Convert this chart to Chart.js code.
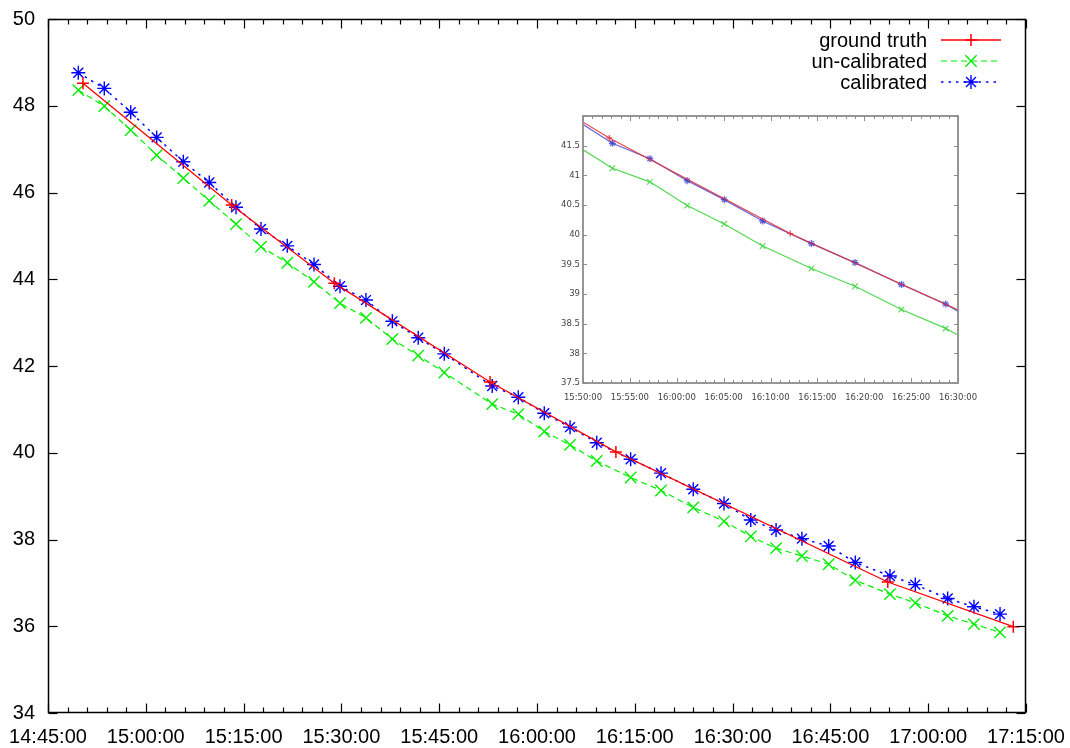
<!DOCTYPE html>
<html>
<head>
<meta charset="utf-8">
<script src="https://cdn.jsdelivr.net/npm/chart.js@4/dist/chart.umd.min.js"></script>
<style>
  html, body { margin: 0; padding: 0; background: #fff; }
  #wrap { position: relative; width: 1070px; height: 748px; overflow: hidden; background: #fff; }
  #main { position: absolute; left: 0; top: 0; }
  #inset { position: absolute; left: 560px; top: 108px; background: #fff; }
</style>
</head>
<body>
<div id="wrap">
  <canvas id="main" width="1070" height="748"></canvas>
  <canvas id="inset" width="420" height="300"></canvas>
</div>
<script>
// ---------------- data ----------------
const seriesLabels = ['ground truth', 'un-calibrated', 'calibrated'];

const truthTimes  = ['14:50:22','15:13:10','15:28:55','15:52:48','16:12:06','16:53:48','17:13:03'];
const truthValues = [48.52, 45.71, 43.91, 41.63, 40.02, 37.02, 35.99];

const sampleTimes = ['14:49:39','14:53:38','14:57:41','15:01:40','15:05:45','15:09:44','15:13:50',
  '15:17:40','15:21:42','15:25:48','15:29:47','15:33:46','15:37:49','15:41:47','15:45:47',
  '15:53:08','15:57:08','16:01:07','16:05:04','16:09:10','16:14:22','16:19:01','16:23:58',
  '16:28:41','16:32:47','16:36:40','16:40:38','16:44:44','16:48:49','16:54:08','16:58:01',
  '17:02:59','17:07:01','17:11:01'];
const uncalibratedValues = [48.36,47.99,47.44,46.86,46.33,45.81,45.27,44.75,44.38,43.94,43.45,
  43.11,42.62,42.24,41.85,41.12,40.89,40.49,40.18,39.81,39.43,39.13,38.74,38.42,38.07,37.80,
  37.62,37.43,37.06,36.74,36.54,36.24,36.05,35.86];
const calibratedValues = [48.76,48.40,47.85,47.27,46.71,46.23,45.66,45.16,44.77,44.34,43.84,
  43.52,43.03,42.65,42.28,41.54,41.28,40.91,40.59,40.23,39.85,39.53,39.16,38.83,38.45,38.22,
  38.02,37.85,37.47,37.16,36.96,36.64,36.45,36.28];

const mainXRange  = ['14:45:00', '17:15:00'];
const mainYRange  = [34, 50];
const insetXRange = ['15:50:00', '16:30:00'];
const insetYRange = [37.5, 42];

// ---------------- helpers ----------------
function toMin(s) { const [h, m, sec] = s.split(':').map(Number); return h * 60 + m + sec / 60; }
function fmtTime(v) {
  const tot = Math.round(v * 60);
  const h = Math.floor(tot / 3600), m = Math.floor((tot % 3600) / 60), s = tot % 60;
  const p = n => String(n).padStart(2, '0');
  return p(h) + ':' + p(m) + ':' + p(s);
}
function pts(times, vals) { return times.map((t, i) => ({ x: toMin(t), y: vals[i] })); }

const truthPts = pts(truthTimes, truthValues);
const uncalPts = pts(sampleTimes, uncalibratedValues);
const calPts   = pts(sampleTimes, calibratedValues);

Chart.defaults.devicePixelRatio = 1;
const SANS = "'Liberation Sans', Arial, sans-serif";

function line(ctx, x1, y1, x2, y2) { ctx.beginPath(); ctx.moveTo(x1, y1); ctx.lineTo(x2, y2); ctx.stroke(); }

// ---------------- main chart decorations: frame, inward ticks, legend ----------------
const mainDecor = {
  id: 'mainDecor',
  afterDraw(chart) {
    const { ctx, chartArea: a, scales: { x, y } } = chart;
    const L = Math.round(a.left) + 0.5, R = Math.round(a.right) - 0.5;
    const T = Math.round(a.top) + 0.5, B = Math.round(a.bottom) - 0.5;
    ctx.save();
    ctx.strokeStyle = '#000';
    ctx.lineWidth = 1.5;
    ctx.strokeRect(L, T, R - L, B - T);
    ctx.lineWidth = 1.2;
    y.ticks.forEach(t => {
      const py = Math.round(y.getPixelForValue(t.value)) + 0.5;
      line(ctx, L, py, L + 9, py);
      line(ctx, R, py, R - 9, py);
    });
    x.ticks.forEach(t => {
      const px = Math.round(x.getPixelForValue(t.value)) + 0.5;
      line(ctx, px, B, px, B - 9);
      line(ctx, px, T, px, T + 9);
    });
    for (let v = x.min + 3; v < x.max; v += 3) {
      if (Math.abs((v - x.min) % 15) < 1e-6) continue;
      const px = Math.round(x.getPixelForValue(v)) + 0.5;
      line(ctx, px, B, px, B - 5);
      line(ctx, px, T, px, T + 5);
    }
    // legend
    const rows = [40, 61, 82];
    ctx.font = '20px ' + SANS;
    ctx.textAlign = 'right';
    ctx.textBaseline = 'middle';
    chart.data.datasets.forEach((ds, i) => {
      const yy = rows[i];
      ctx.fillStyle = '#000';
      ctx.fillText(ds.label, 927, yy + 1);
      ctx.strokeStyle = ds.borderColor;
      ctx.lineWidth = ds.borderWidth;
      ctx.setLineDash(ds.borderDash || []);
      line(ctx, 941, yy, 1001, yy);
      ctx.setLineDash([]);
      ctx.lineWidth = ds.pointBorderWidth;
      ctx.fillStyle = ds.borderColor;
      Chart.helpers.drawPoint(ctx, { pointStyle: ds.pointStyle, radius: ds.pointRadius, borderWidth: ds.pointBorderWidth, rotation: 0 }, 971, yy);
    });
    ctx.restore();
  }
};

new Chart(document.getElementById('main'), {
  type: 'line',
  data: {
    datasets: [
      { label: seriesLabels[0], data: truthPts, borderColor: '#ff0000', backgroundColor: '#ff0000',
        borderWidth: 1.3, pointStyle: 'cross', pointRadius: 6, pointBorderWidth: 1.5, tension: 0 },
      { label: seriesLabels[1], data: uncalPts, borderColor: '#00ee00', backgroundColor: '#00ee00',
        borderWidth: 1.2, borderDash: [6, 4], pointStyle: 'crossRot', pointRadius: 8, pointBorderWidth: 1.4, tension: 0 },
      { label: seriesLabels[2], data: calPts, borderColor: '#0000ff', backgroundColor: '#0000ff',
        borderWidth: 1.5, borderDash: [2.5, 5], pointStyle: 'star', pointRadius: 7, pointBorderWidth: 1.4, tension: 0 }
    ]
  },
  options: {
    responsive: false,
    animation: false,
    layout: { padding: { top: 19, right: 44, left: 0, bottom: 0 } },
    plugins: { legend: { display: false }, tooltip: { enabled: false } },
    scales: {
      x: {
        type: 'linear', min: toMin(mainXRange[0]), max: toMin(mainXRange[1]),
        grid: { display: false, drawTicks: true, tickLength: 12 }, border: { display: false },
        ticks: { stepSize: 15, callback: v => fmtTime(v), color: '#000', font: { family: SANS, size: 20 },
                 padding: 0, maxRotation: 0, autoSkip: false },
        afterFit: s => { s.height = 35; }
      },
      y: {
        min: mainYRange[0], max: mainYRange[1],
        grid: { display: false, drawTicks: true, tickLength: 13 }, border: { display: false },
        ticks: { stepSize: 2, color: '#000', font: { family: SANS, size: 20 }, padding: 0 },
        afterFit: s => { s.width = 48; }
      }
    }
  },
  plugins: [mainDecor]
});

// ---------------- inset chart ----------------
const insetDecor = {
  id: 'insetDecor',
  afterDraw(chart) {
    const { ctx, chartArea: a, scales: { x, y } } = chart;
    const L = a.left, R = a.right, T = a.top, B = a.bottom;
    ctx.save();
    ctx.strokeStyle = '#8c8c8c';
    ctx.lineWidth = 1.8;
    ctx.strokeRect(L, T, R - L, B - T);
    ctx.lineWidth = 1;
    y.ticks.forEach(t => {
      const py = Math.round(y.getPixelForValue(t.value)) + 0.5;
      line(ctx, L, py, L + 4, py);
      line(ctx, R, py, R - 4, py);
    });
    for (let v = x.min; v <= x.max + 1e-6; v += 1) {
      const major = Math.abs((v - x.min) % 5) < 1e-6;
      const len = major ? 5 : 3;
      const px = Math.round(x.getPixelForValue(v)) + 0.5;
      line(ctx, px, B, px, B - len);
      line(ctx, px, T, px, T + len);
    }
    ctx.restore();
  }
};

const DEJA = "'DejaVu Sans', sans-serif";
new Chart(document.getElementById('inset'), {
  type: 'line',
  data: {
    datasets: [
      { label: seriesLabels[0], data: truthPts, borderColor: 'rgba(230,50,50,0.9)', backgroundColor: 'rgba(230,50,50,0.9)',
        borderWidth: 1.2, pointStyle: 'cross', pointRadius: 3, pointBorderWidth: 1.2, tension: 0 },
      { label: seriesLabels[1], data: uncalPts, borderColor: 'rgba(70,215,70,0.95)', backgroundColor: 'rgba(70,215,70,0.95)',
        borderWidth: 1.2, pointStyle: 'crossRot', pointRadius: 4, pointBorderWidth: 1.1, tension: 0 },
      { label: seriesLabels[2], data: calPts, borderColor: 'rgba(50,50,210,0.75)', backgroundColor: 'rgba(50,50,210,0.75)',
        borderWidth: 1.3, pointStyle: 'star', pointRadius: 3.5, pointBorderWidth: 1.3, tension: 0 }
    ]
  },
  options: {
    responsive: false,
    animation: false,
    layout: { padding: { top: 8, right: 22, left: 0, bottom: 0 } },
    plugins: { legend: { display: false }, tooltip: { enabled: false } },
    scales: {
      x: {
        type: 'linear', min: toMin(insetXRange[0]), max: toMin(insetXRange[1]),
        grid: { display: false, drawTicks: true, tickLength: 10 }, border: { display: false },
        ticks: { stepSize: 5, callback: v => fmtTime(v), color: '#444', font: { family: DEJA, size: 8.5 },
                 padding: 0, maxRotation: 0, autoSkip: false },
        afterFit: s => { s.height = 25; }
      },
      y: {
        min: insetYRange[0], max: insetYRange[1],
        grid: { display: false, drawTicks: true, tickLength: 3 }, border: { display: false },
        ticks: { stepSize: 0.5, callback: v => (v >= insetYRange[1] ? '' : String(v)), color: '#444',
                 font: { family: DEJA, size: 8.5 }, padding: 0 },
        afterFit: s => { s.width = 23; }
      }
    }
  },
  plugins: [insetDecor]
});
</script>
</body>
</html>
